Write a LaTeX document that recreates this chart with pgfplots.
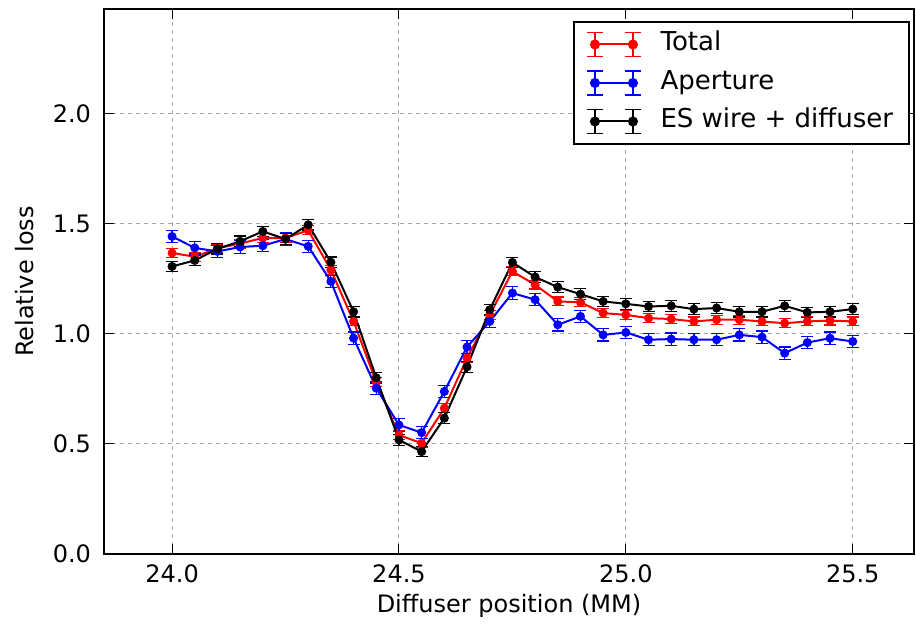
\documentclass[border=0pt]{standalone}
\usepackage{fontspec}
\setmainfont{DejaVu Sans}
\usepackage{pgfplots}
\usepackage{pgfplotstable}
\pgfplotsset{compat=1.18}

\pgfplotstableread{
x y e
24.00 1.367 0.02
24.05 1.350 0.02
24.10 1.388 0.02
24.15 1.410 0.02
24.20 1.435 0.02
24.25 1.435 0.02
24.30 1.470 0.02
24.35 1.290 0.02
24.40 1.056 0.02
24.45 0.780 0.02
24.50 0.540 0.02
24.55 0.503 0.02
24.60 0.662 0.02
24.65 0.890 0.02
24.70 1.086 0.02
24.75 1.283 0.02
24.80 1.223 0.02
24.85 1.147 0.02
24.90 1.143 0.02
24.95 1.094 0.02
25.00 1.086 0.02
25.05 1.071 0.02
25.10 1.067 0.02
25.15 1.056 0.02
25.20 1.064 0.02
25.25 1.064 0.02
25.30 1.056 0.02
25.35 1.048 0.02
25.40 1.056 0.02
25.45 1.060 0.02
25.50 1.056 0.02
}\total

\pgfplotstableread{
x y e
24.00 1.442 0.028
24.05 1.390 0.028
24.10 1.374 0.028
24.15 1.394 0.028
24.20 1.400 0.028
24.25 1.430 0.028
24.30 1.397 0.028
24.35 1.238 0.028
24.40 0.980 0.028
24.45 0.753 0.028
24.50 0.586 0.028
24.55 0.551 0.028
24.60 0.738 0.028
24.65 0.940 0.028
24.70 1.056 0.028
24.75 1.185 0.028
24.80 1.155 0.028
24.85 1.041 0.028
24.90 1.079 0.028
24.95 0.995 0.028
25.00 1.006 0.028
25.05 0.973 0.028
25.10 0.976 0.028
25.15 0.973 0.028
25.20 0.973 0.028
25.25 0.995 0.028
25.30 0.985 0.028
25.35 0.912 0.028
25.40 0.960 0.028
25.45 0.980 0.028
25.50 0.965 0.028
}\aperture

\pgfplotstableread{
x y e
24.00 1.306 0.024
24.05 1.333 0.024
24.10 1.386 0.024
24.15 1.420 0.024
24.20 1.465 0.024
24.25 1.430 0.024
24.30 1.495 0.024
24.35 1.325 0.024
24.40 1.100 0.024
24.45 0.800 0.024
24.50 0.518 0.024
24.55 0.465 0.024
24.60 0.617 0.024
24.65 0.850 0.024
24.70 1.109 0.024
24.75 1.324 0.024
24.80 1.258 0.024
24.85 1.212 0.024
24.90 1.180 0.024
24.95 1.147 0.024
25.00 1.136 0.024
25.05 1.124 0.024
25.10 1.127 0.024
25.15 1.112 0.024
25.20 1.117 0.024
25.25 1.100 0.024
25.30 1.100 0.024
25.35 1.127 0.024
25.40 1.097 0.024
25.45 1.100 0.024
25.50 1.112 0.024
}\eswire

\newcommand{\errleg}[1]{%
  \draw[#1,line width=1pt] (0pt,0pt)--(19pt,0pt);
  \draw[#1,line width=0.6pt] (0pt,-6pt)--(0pt,6pt) (19pt,-6pt)--(19pt,6pt)
    (-4pt,-6pt)--(4pt,-6pt) (-4pt,6pt)--(4pt,6pt)
    (15pt,-6pt)--(23pt,-6pt) (15pt,6pt)--(23pt,6pt);
  \fill[#1] (0pt,0pt) circle (2pt) (19pt,0pt) circle (2pt);
}

\pgfplotsset{
  errplot/.style={
    color=#1, line width=1pt, mark=*, mark size=2pt,
    mark options={solid, fill=#1, line width=0.5pt},
    legend image code/.code={\errleg{#1}},
    error bars/.cd, y dir=both, y explicit,
    error bar style={line width=0.6pt, #1},
    error mark options={rotate=90, line width=0.6pt, mark size=3pt, #1},
  },
}

\begin{document}
\begin{tikzpicture}
\begin{axis}[
  scale only axis, width=405pt, height=272.5pt,
  xmin=23.85, xmax=25.635, ymin=0, ymax=2.475,
  xtick={24,24.5,25,25.5}, xticklabels={24.0,24.5,25.0,25.5},
  ytick={0,0.5,1,1.5,2}, yticklabels={0.0,0.5,1.0,1.5,2.0},
  tick align=inside, major tick length=5pt,
  tick style={black, line width=0.5pt},
  axis line style={black, line width=1pt},
  grid=major,
  grid style={gray!70, line width=0.5pt, dash pattern=on 2pt off 2pt},
  ticklabel style={font=\fontsize{12}{14}\selectfont},
  xticklabel style={anchor=north, yshift=-2pt},
  yticklabel style={anchor=east, xshift=-3pt},
  xlabel={Diffuser position (MM)},
  ylabel={Relative loss},
  label style={font=\fontsize{12}{14}\selectfont},
  xlabel style={at={(axis description cs:0.5,0)}, anchor=center, yshift=-26pt},
  ylabel style={at={(axis description cs:0,0.5)}, anchor=center, yshift=39.5pt},
  legend cell align=left,
  legend style={
    at={(rel axis cs:1,1)}, anchor=north east, xshift=-2pt, yshift=-6pt,
    draw=black, line width=1pt, fill=white,
    font=\fontsize{13}{15}\selectfont,
    inner xsep=6pt, inner ysep=3pt, row sep=2.75pt,
    nodes={inner ysep=2pt, text height=9.5pt, text depth=3pt},
    /tikz/every odd column/.append style={column sep=7.5pt},
  },
]
\addplot[errplot=red] table[x=x, y=y, y error=e] {\total};
\addlegendentry{Total}
\addplot[errplot=blue] table[x=x, y=y, y error=e] {\aperture};
\addlegendentry{Aperture}
\addplot[errplot=black] table[x=x, y=y, y error=e] {\eswire};
\addlegendentry{ES wire + diffuser}
\end{axis}
\path ([xshift=-52pt,yshift=-34.5pt]current axis.south west) rectangle ([xshift=1pt,yshift=4.5pt]current axis.north east);
\end{tikzpicture}
\end{document}
